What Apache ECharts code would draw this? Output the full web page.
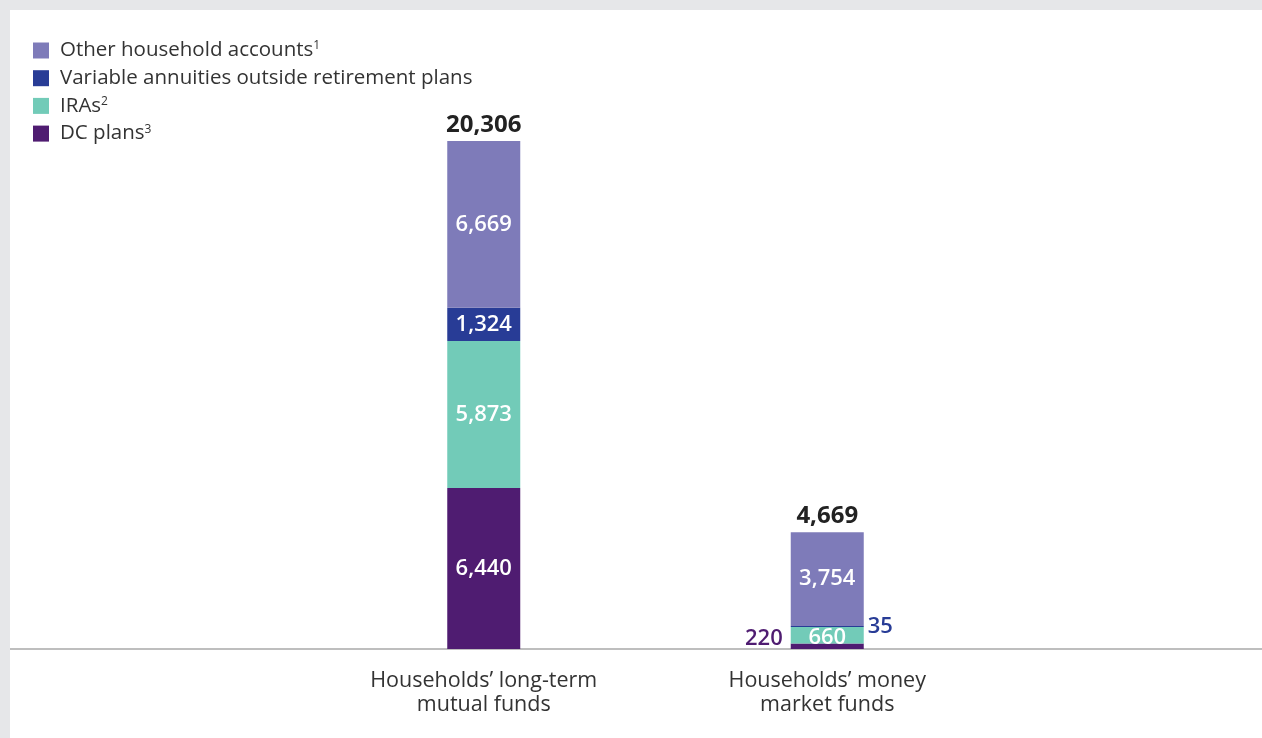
<!DOCTYPE html>
<html>
<head>
<meta charset="utf-8">
<script src="https://cdn.jsdelivr.net/npm/echarts@6/dist/echarts.min.js"></script>
<style>
  html, body { margin: 0; padding: 0; background: #e6e7e9; }
  #chart { position: absolute; left: 10px; top: 10px; width: 1252px; height: 728px; background: #ffffff; }
</style>
</head>
<body>
<div id="chart"></div>
<script>
// values in billions of dollars
const categories = ['Households\u2019 long-term\nmutual funds', 'Households\u2019 money\nmarket funds'];
const seriesNames = ['DC plans', 'IRAs', 'Variable annuities outside retirement plans', 'Other household accounts'];
const footnotes = ['3', '2', '', '1'];
const dcPlans = [6440, 220];
const iras = [5873, 660];
const variableAnnuities = [1324, 35];
const otherAccounts = [6669, 3754];
const totals = [20306, 4669];

const colors = ['#4f1c71', '#72cbb8', '#283c96', '#7e7bb9'];
const seriesData = [dcPlans, iras, variableAnnuities, otherAccounts];
const font = 'Open Sans';

const chart = echarts.init(document.getElementById('chart'));

// labels for the small money market segments sit outside the bar
const outsideLabels = {
  0: { position: 'left', distance: 8, offset: [0, -8], color: colors[0], fontWeight: 600 },
  2: { position: 'right', distance: 4, offset: [0, 0], color: colors[2], fontWeight: 600 },
};

const series = seriesNames.map((name, si) => ({
  name: name,
  type: 'bar',
  stack: 'total',
  barWidth: 73,
  itemStyle: { color: colors[si] },
  label: {
    show: true,
    position: 'inside',
    color: '#ffffff',
    fontFamily: font,
    fontSize: 22,
    fontWeight: 600,
    formatter: p => p.value.toLocaleString('en-US'),
  },
  data: seriesData[si].map((v, ci) => {
    if (ci === 1 && outsideLabels[si]) {
      return { value: v, label: outsideLabels[si] };
    }
    if (ci === 1 && si === 1) {
      return { value: v, label: { offset: [0, 2] } };
    }
    return v;
  }),
}));

// invisible cap carrying the total above each bar
series.push({
  name: 'Total',
  type: 'bar',
  stack: 'total',
  barWidth: 73,
  data: totals.map(() => 0),
  itemStyle: { color: 'transparent' },
  label: {
    show: true,
    position: 'top',
    distance: 4,
    color: '#222222',
    fontFamily: font,
    fontSize: 24,
    fontWeight: 'bold',
    formatter: p => totals[p.dataIndex].toLocaleString('en-US'),
  },
});

const legendOrder = [3, 2, 1, 0];

chart.setOption({
  animation: false,
  legend: {
    orient: 'vertical',
    left: 18,
    top: 25,
    itemWidth: 16,
    itemHeight: 16,
    itemGap: 6.7,
    icon: 'rect',
    data: legendOrder.map(i => seriesNames[i]),
    formatter: name => {
      const fn = footnotes[seriesNames.indexOf(name)];
      return fn ? `{t|${name}}{s|${fn}}` : `{t|${name}}`;
    },
    textStyle: {
      color: '#333333',
      fontFamily: font,
      fontSize: 20.5,
      rich: {
        t: { fontFamily: font, fontSize: 20.5, color: '#333333', padding: [0, 0, 0, 6] },
        s: { fontFamily: font, fontSize: 12, color: '#333333', verticalAlign: 'top', padding: [0, 0, 9, 0] },
      },
    },
  },
  grid: [
    { left: 302, right: 263, top: 131, bottom: 89 },
    { left: 0, right: 0, top: 131, bottom: 89 },
  ],
  xAxis: [
    {
      type: 'category',
      data: categories,
      axisLine: { show: false },
      axisTick: { show: false },
      axisLabel: {
        color: '#333333',
        fontFamily: font,
        fontSize: 21.5,
        lineHeight: 24,
        margin: 20,
      },
    },
    {
      type: 'value',
      gridIndex: 1,
      min: 0,
      max: 1,
      axisLine: { show: true, onZero: false, lineStyle: { color: '#a8a8a8', width: 1.5 } },
      axisTick: { show: false },
      axisLabel: { show: false },
      splitLine: { show: false },
    },
  ],
  yAxis: [
    {
      type: 'value',
      min: 0,
      max: Math.max(...totals),
      show: false,
      splitLine: { show: false },
    },
    {
      type: 'value',
      gridIndex: 1,
      min: 0,
      max: 1,
      show: false,
    },
  ],
  series: series,
});
</script>
</body>
</html>
